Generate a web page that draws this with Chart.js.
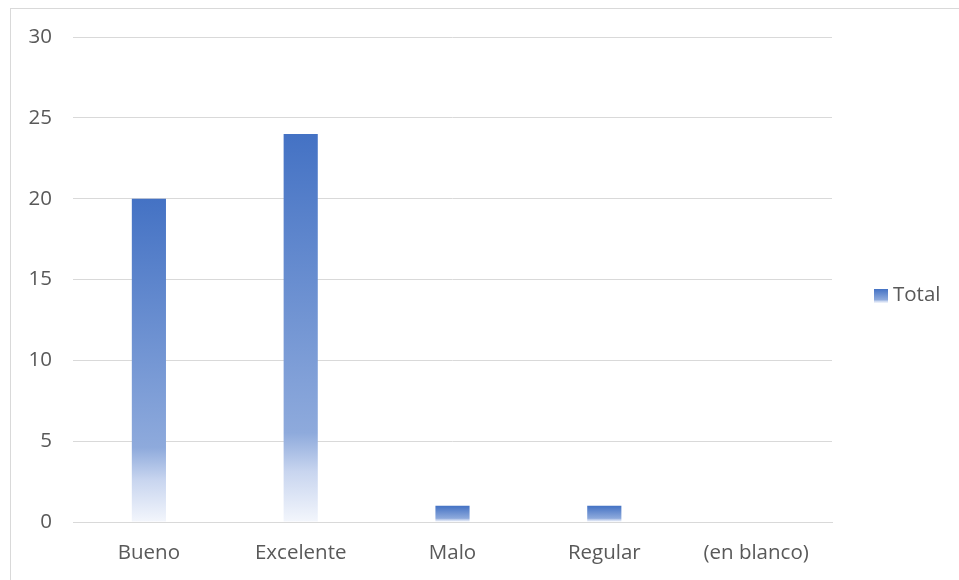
<!DOCTYPE html>
<html>
<head>
<meta charset="utf-8">
<script src="https://cdn.jsdelivr.net/npm/chart.js@4"></script>
<style>
  html, body { margin: 0; padding: 0; background: #fff; }
  #wrap { position: relative; width: 959px; height: 580px; }
</style>
</head>
<body>
<div id="wrap"><canvas id="barChart" width="959" height="580"></canvas></div>
<script>
const categories = ["Bueno", "Excelente", "Malo", "Regular", "(en blanco)"];
const totals = [20, 24, 1, 1, null];
const yTicks = [0, 5, 10, 15, 20, 25, 30];
const seriesName = "Total";

const FONT = "'Open Sans', sans-serif";
const SIZE = 20.5;
const TEXT = "#595959";
const GRID = "#d9d9d9";

// degradado tipo Excel, de arriba (azul) hacia abajo (casi blanco)
function fade(ctx, top, bottom) {
    const g = ctx.createLinearGradient(0, top, 0, bottom);
    g.addColorStop(0, "#4472c4");
    g.addColorStop(0.77, "#8eaadc");
    g.addColorStop(0.87, "#c8d5ef");
    g.addColorStop(1, "#f3f6fc");
    return g;
}

const frame = {
    id: "frame",
    beforeDraw(chart) {
        const c = chart.ctx;
        c.save();
        c.strokeStyle = GRID;
        c.lineWidth = 1;
        c.strokeRect(10.5, 8.5, 2000, 2000);
        c.restore();
    },
    afterDraw(chart) {
        // leyenda a la derecha
        const c = chart.ctx;
        c.save();
        c.fillStyle = fade(c, 289, 303);
        c.fillRect(874, 289, 14, 14);
        c.fillStyle = TEXT;
        c.font = SIZE + "px " + FONT;
        c.textBaseline = "middle";
        c.fillText(seriesName, 893, 295);
        c.restore();
    }
};

const ctx = document.getElementById("barChart").getContext("2d");
new Chart(ctx, {
    type: "bar",
    data: {
        labels: categories,
        datasets: [{
            label: seriesName,
            data: totals,
            backgroundColor: function (context) {
                const chart = context.chart;
                const y = chart.scales.y;
                if (!y || context.raw == null) return "#4472c4";
                const top = y.getPixelForValue(context.raw);
                const base = y.getPixelForValue(0);
                if (!isFinite(top) || !isFinite(base) || top === base) return "#4472c4";
                return fade(chart.ctx, top, base);
            },
            borderWidth: 0,
            categoryPercentage: 1,
            barPercentage: 0.225,
        }],
    },
    options: {
        responsive: false,
        animation: false,
        layout: { padding: { left: 0, top: 37, right: 127, bottom: 0 } },
        plugins: {
            legend: { display: false },
            tooltip: { enabled: false },
        },
        scales: {
            x: {
                grid: { display: false },
                border: { color: GRID, width: 1 },
                ticks: { color: TEXT, font: { family: FONT, size: SIZE }, padding: 11, maxRotation: 0 },
                afterFit(scale) { scale.height = 58; },
            },
            y: {
                min: 0,
                max: 30,
                afterBuildTicks(scale) { scale.ticks = yTicks.map(v => ({ value: v })); },
                grid: { color: GRID, drawTicks: false },
                border: { display: false },
                ticks: { color: TEXT, font: { family: FONT, size: SIZE }, padding: 21 },
                afterFit(scale) { scale.width = 73; },
            },
        },
    },
    plugins: [frame],
});
</script>
</body>
</html>
